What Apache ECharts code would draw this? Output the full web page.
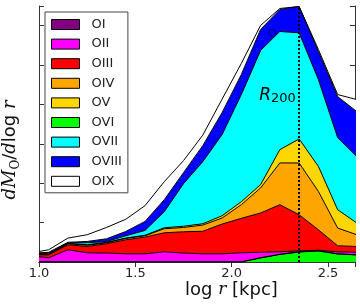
<!DOCTYPE html>
<html>
<head>
<meta charset="utf-8">
<script src="https://cdn.jsdelivr.net/npm/echarts@6/dist/echarts.min.js"></script>
<style>
html,body{margin:0;padding:0;background:#fff;}
#c{width:360px;height:307px;}
</style>
</head>
<body>
<div id="c"></div>
<script>
// log r [kpc] sample points
const logR = [1.00,1.05,1.15,1.25,1.35,1.45,1.55,1.65,1.75,1.85,1.95,2.05,2.15,2.25,2.35,2.45,2.55,2.65];
// per-ion contributions (stacked)
const OVI   = [0,0,0,0,0,0,0,0,0,0,0,0,0.102,0.191,0.254,0.280,0.203,0.178];
const OI    = [0.005,0.005,0.005,0.005,0.005,0.005,0.005,0.005,0.005,0.005,0.005,0.005,0.005,0.005,0.005,0.005,0.005,0.005];
const OII   = [0.127,0.102,0.305,0.229,0.221,0.203,0.203,0.254,0.221,0.203,0.203,0.229,0.140,0.064,0.025,0.013,0.051,0.064];
const OIII  = [0.051,0.076,0.127,0.160,0.236,0.356,0.425,0.483,0.542,0.572,0.755,0.875,0.997,1.195,0.915,0.521,0.153,0.147];
const OIV   = [0.013,0.013,0.025,0.031,0.025,0.033,0.033,0.102,0.109,0.158,0.153,0.346,0.636,1.060,1.315,0.974,0.450,0.297];
const OV    = [0.005,0.005,0.008,0.013,0.013,0.010,0.013,0.025,0.031,0.033,0.058,0.076,0.084,0.338,0.610,0.636,0.465,0.297];
const OVII  = [0.020,0.020,0.010,0.051,0.020,0.058,0.122,0.407,1.081,1.576,2.059,2.721,3.407,3.000,2.695,2.204,1.831,1.686];
const OVIII = [0.013,0.025,0.020,0.033,0.069,0.109,0.229,0.305,0.280,0.407,0.559,0.509,0.534,0.559,0.669,0.712,1.042,1.144];
const OIX   = [0.033,0.064,0.107,0.170,0.287,0.310,0.399,0.458,0.305,0.267,0.341,0.280,0.102,0.025,0.000,0.051,0.051,0.305];
const legendOrder = ['OI','OII','OIII','OIV','OV','OVI','OVII','OVIII','OIX'];
const xTicks = [1.0,1.5,2.0,2.5];
const r200 = 2.345;
const marker = [[2.21, 5.82]];

const stackOrder = [
  ['OVI', OVI, '#00ff00'],
  ['OI', OI, '#800080'],
  ['OII', OII, '#ff00ff'],
  ['OIII', OIII, '#ff0000'],
  ['OIV', OIV, '#ffa500'],
  ['OV', OV, '#ffd700'],
  ['OVII', OVII, '#00ffff'],
  ['OVIII', OVIII, '#0000ff'],
  ['OIX', OIX, '#ffffff']
];

const chart = echarts.init(document.getElementById('c'), null, {renderer:'canvas'});
const FONT = 'DejaVu Sans';

// value first, log r second, so that the stacked dimension is the value
const series = stackOrder.map(([name, vals, col]) => ({
  name: name,
  type: 'line',
  stack: 'total',
  dimensions: [{name: 'v', type: 'float'}, {name: 'x', type: 'float'}],
  encode: {x: 1, y: 0},
  data: logR.map((x, i) => [vals[i], x]),
  symbol: 'none',
  smooth: false,
  itemStyle: {color: col},
  lineStyle: {color: '#000', width: 1},
  areaStyle: {color: col, opacity: 1},
  z: 2
}));
series[series.length - 1].markLine = {
  silent: true,
  symbol: 'none',
  label: {show: false},
  lineStyle: {type: [2, 2], color: '#000', width: 2},
  data: [{xAxis: r200}],
  z: 5
};
series.push({
  name: 'marker',
  type: 'scatter',
  data: marker,
  symbol: 'circle',
  symbolSize: 7,
  itemStyle: {color: 'rgba(0,0,0,0)', borderColor: '#00004a', borderWidth: 1},
  z: 6
});

const axisCommon = {
  type: 'value', min: 1.0, max: 2.64, interval: 0.5,
  axisLine: {show: true, lineStyle: {color: '#333', width: 1}},
  axisTick: {show: true, inside: true, length: 5, lineStyle: {color: '#333'}},
  splitLine: {show: false}
};

chart.setOption({
  animation: false,
  backgroundColor: '#fff',
  grid: {left: 39, right: 5, top: 6, bottom: 45, containLabel: false},
  legend: {
    data: legendOrder,
    orient: 'vertical',
    left: 45, top: 12,
    icon: 'rect',
    itemWidth: 28, itemHeight: 10, itemGap: 6.6,
    padding: [6, 6, 5, 6],
    backgroundColor: '#fff',
    borderColor: '#444', borderWidth: 1, borderRadius: 0,
    itemStyle: {borderColor: '#000', borderWidth: 1},
    textStyle: {fontFamily: FONT, fontSize: 13, color: '#222', padding: [0, 0, 0, 7]},
    selectedMode: false,
    z: 10
  },
  xAxis: [
    Object.assign({}, axisCommon, {
      position: 'bottom',
      axisLabel: {show: true, margin: 5, fontFamily: FONT, fontSize: 13, color: '#222',
        formatter: v => xTicks.some(t => Math.abs(t - v) < 1e-9) ? v.toFixed(1) : ''}
    }),
    Object.assign({}, axisCommon, {position: 'top', axisLabel: {show: false}})
  ],
  yAxis: [
    {type: 'value', min: 0, max: 6.5, interval: 1, position: 'left',
      axisLine: {show: true, lineStyle: {color: '#333'}},
      axisTick: {show: true, inside: true, length: 5, lineStyle: {color: '#333'}},
      axisLabel: {show: false}, splitLine: {show: false}},
    {type: 'value', min: 0, max: 6.5, interval: 1, position: 'right',
      axisLine: {show: true, lineStyle: {color: '#333'}},
      axisTick: {show: true, inside: true, length: 5, lineStyle: {color: '#333'}},
      axisLabel: {show: false}, splitLine: {show: false}}
  ],
  series: series
});

const p = chart.convertToPixel({xAxisIndex: 0, yAxisIndex: 0}, [r200, 4.2]);
chart.setOption({
  graphic: [
    {type: 'text', left: p[0] - 39, top: p[1] - 10, z: 20,
      style: {rich: {
        a: {fontFamily: FONT, fontStyle: 'italic', fontSize: 17, lineHeight: 20, verticalAlign: 'middle', fill: '#000'},
        b: {fontFamily: FONT, fontSize: 13, lineHeight: 14, verticalAlign: 'bottom', fill: '#000'}
      }, text: '{a|R}{b|200}'}},
    {type: 'text', left: 185, top: 281, z: 20,
      style: {rich: {
        n: {fontFamily: FONT, fontSize: 18, fill: '#111'},
        m: {fontFamily: 'DejaVu Serif', fontStyle: 'italic', fontSize: 17, fill: '#111'}
      }, text: '{n|log }{m|r}{n| [kpc]}'}},
    {type: 'text', x: 10, y: 150, rotation: Math.PI / 2, z: 20,
      style: {align: 'center', verticalAlign: 'middle', rich: {
        m: {fontFamily: 'DejaVu Serif', fontStyle: 'italic', fontSize: 18, lineHeight: 24, verticalAlign: 'middle', fill: '#111'},
        s: {fontFamily: 'DejaVu Serif', fontSize: 12, lineHeight: 12, verticalAlign: 'bottom', fill: '#111'},
        n: {fontFamily: FONT, fontSize: 18, lineHeight: 24, verticalAlign: 'middle', fill: '#111'}
      }, text: '{m|dM}{s|O}{n|/}{m|d}{n|log }{m|r}'}}
  ]
});
</script>
</body>
</html>
